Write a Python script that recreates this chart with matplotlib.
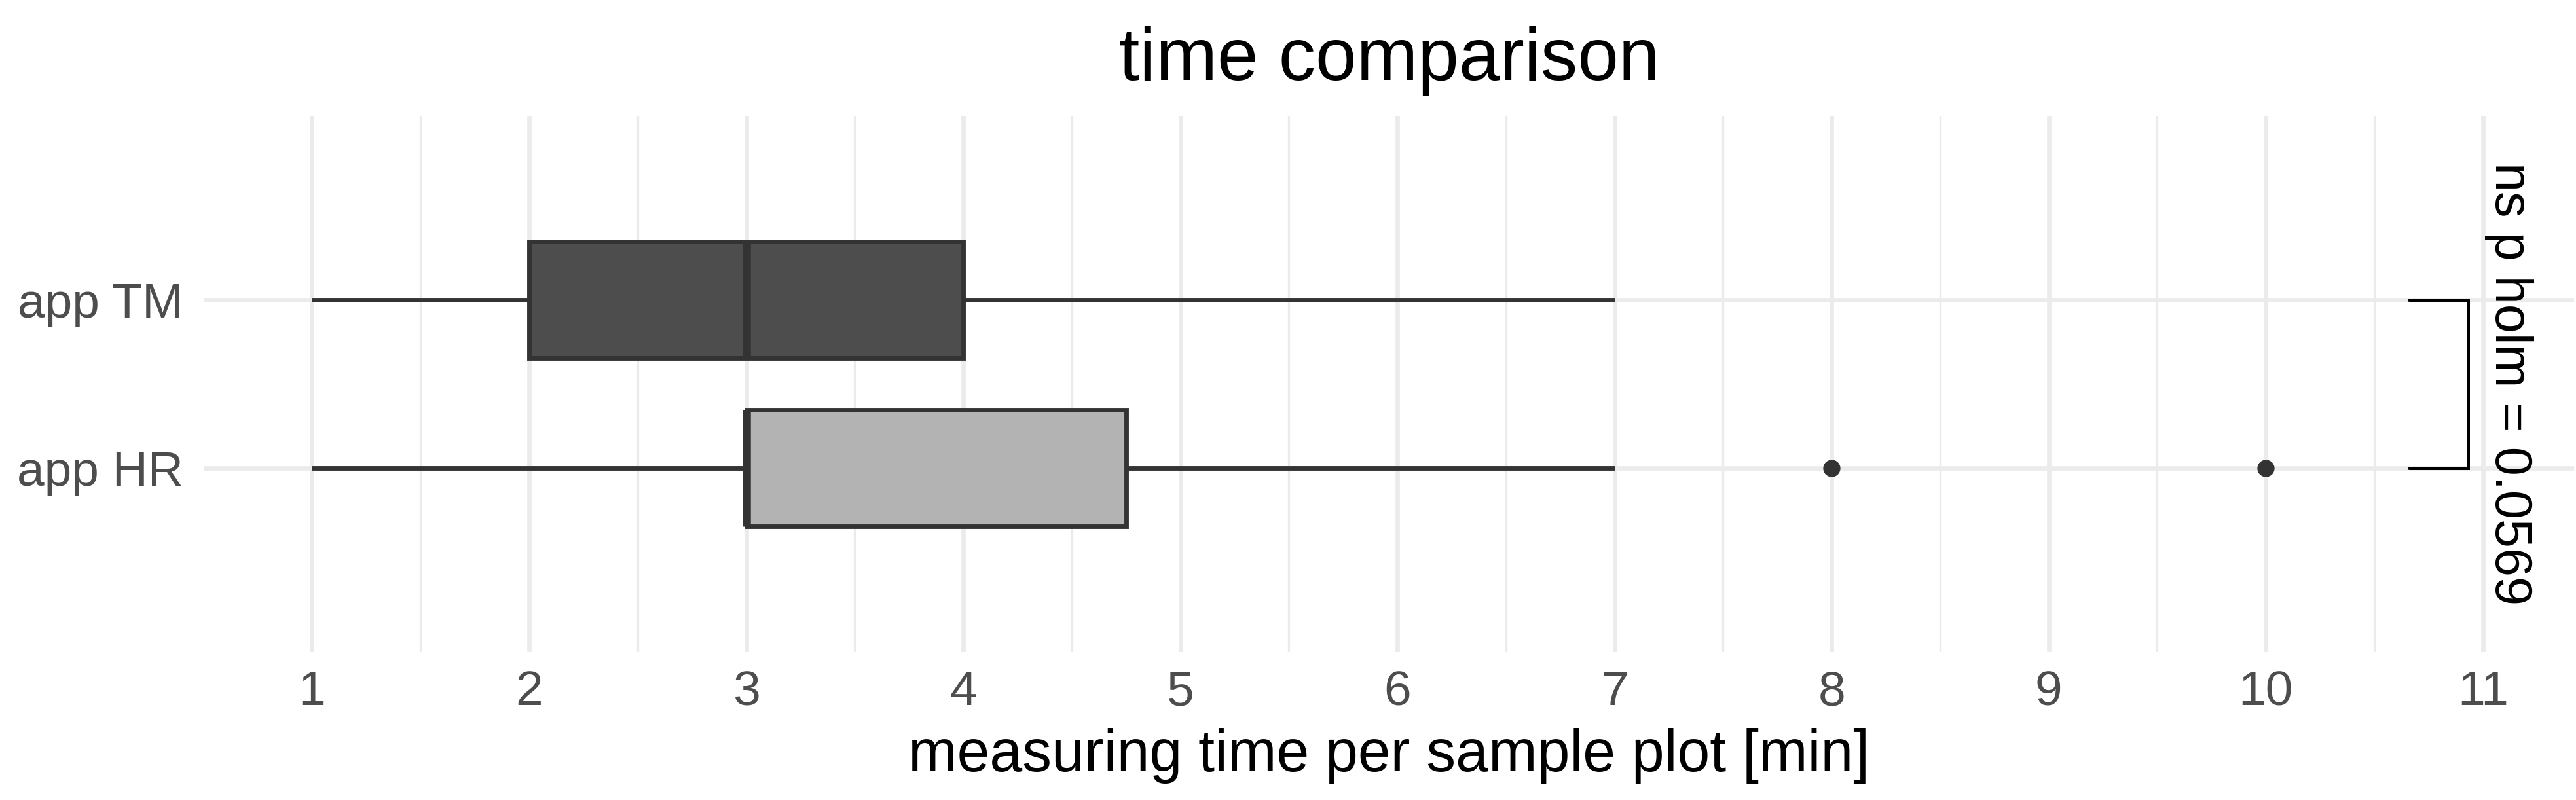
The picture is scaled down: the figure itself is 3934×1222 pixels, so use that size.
import matplotlib
matplotlib.use("Agg")
import matplotlib.pyplot as plt
from matplotlib.ticker import MultipleLocator

plt.rcParams['font.family'] = ['Liberation Sans', 'DejaVu Sans']

# ---- data ----
groups = ["app HR", "app TM"]
whislo = [1, 1]
q1 = [3, 2]
med = [3, 3]
q3 = [4.75, 4]
whishi = [7, 7]
fliers = [[8, 10], []]
fills = ["#B3B3B3", "#4D4D4D"]
x_ticks = [1, 2, 3, 4, 5, 6, 7, 8, 9, 10, 11]
sig_label = "ns p holm = 0.0569"
sig_y_position = 10.93
sig_tip = 0.27

title = "time comparison"
xlabel = "measuring time per sample plot [min]"

# ---- figure ----
W, H = 3934, 1222
dpi = 300
fig = plt.figure(figsize=(W / dpi, H / dpi), dpi=dpi)
pl, pr, pt, pb = 312, 3931, 177, 996
ax = fig.add_axes([pl / W, 1 - pb / H, (pr - pl) / W, (pb - pt) / H])

positions = list(range(1, len(groups) + 1))
stats = []
for i, g in enumerate(groups):
    stats.append(dict(label=g, whislo=whislo[i], q1=q1[i], med=med[i],
                      q3=q3[i], whishi=whishi[i], fliers=fliers[i]))

edge = "#333333"
bp = ax.bxp(stats, positions=positions, orientation='horizontal', widths=0.69,
            patch_artist=True, showcaps=False,
            boxprops=dict(edgecolor=edge, linewidth=1.65),
            whiskerprops=dict(color=edge, linewidth=1.65, solid_capstyle='butt'),
            medianprops=dict(color=edge, linewidth=3.0, solid_capstyle='butt'),
            flierprops=dict(marker='o', markersize=6.0, markerfacecolor=edge,
                            markeredgecolor=edge, markeredgewidth=0.3),
            zorder=3)
for patch, c in zip(bp['boxes'], fills):
    patch.set_facecolor(c)

# significance bracket
ya, yb = positions[0], positions[1]
ax.plot([sig_y_position - sig_tip, sig_y_position, sig_y_position, sig_y_position - sig_tip],
        [yb, yb, ya, ya], color="black", linewidth=1.2, zorder=3,
        solid_joinstyle='miter', solid_capstyle='round')
ax.text(sig_y_position + 0.19, (ya + yb) / 2, sig_label, rotation=-90,
        ha='center', va='center', fontsize=19, color="black", zorder=4)

# axes styling (theme_minimal-like)
ax.set_xlim(0.504, 11.42)
ax.set_ylim(-0.09, 3.09)
ax.set_xticks(x_ticks)
ax.xaxis.set_minor_locator(MultipleLocator(0.5))
ax.set_yticks(positions)
ax.set_yticklabels(groups)
for s in ax.spines.values():
    s.set_visible(False)
ax.set_axisbelow(True)
ax.grid(True, which='major', axis='both', color="#EBEBEB", linewidth=1.6)
ax.grid(True, which='minor', axis='x', color="#EBEBEB", linewidth=0.8)
ax.tick_params(axis='both', which='both', length=0, labelsize=18, labelcolor="#4D4D4D")
ax.tick_params(axis='x', pad=6.5)
ax.tick_params(axis='y', pad=7.7)

ax.set_xlabel(xlabel, fontsize=21.5, color="black")
ax.xaxis.label.set_va('baseline')
ax.xaxis.set_label_coords(0.5, (H - 1178 - (H - pb)) / (pb - pt))

fig.text((pl + pr) / 2 / W, 1 - 122 / H, title, ha='center', va='baseline',
         fontsize=27, color="black")

fig.savefig("out.png", dpi=dpi, facecolor="white")
